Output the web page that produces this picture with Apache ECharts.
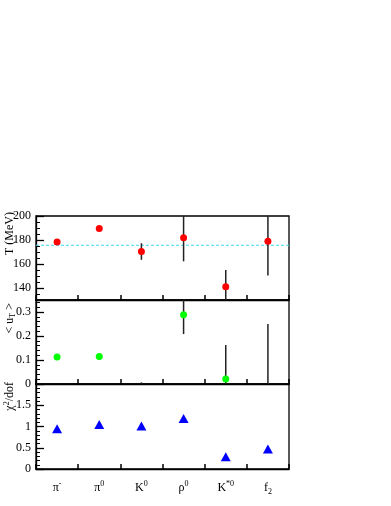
<!DOCTYPE html>
<html>
<head>
<meta charset="utf-8">
<script src="https://cdn.jsdelivr.net/npm/echarts@6/dist/echarts.min.js"></script>
<style>
  html, body { margin: 0; padding: 0; background: #fff; }
  #chart { width: 391px; height: 506px; }
</style>
</head>
<body>
<div id="chart"></div>
<script>
// particle labels (rich text for super/subscripts)
const particles = ['π{sup|-}', 'π{sup|0}', 'K{sup|0}', 'ρ{sup|0}', 'K{sup|*0}', 'f{sub|2}']

// temperature (MeV) with errors
const tempVals = [178.3, 189.6, 170.4, 181.9, 141.0, 179.0]
const tempErr = [1.2, 1.2, 6.9, 19.7, 14.1, 28.6]
const tempMean = 175.6
const tempTicks = [140, 160, 180, 200]

// mean flow <u_T> with errors (values below 0 are off the plot)
const flowVals = [0.112, 0.115, -0.03, 0.289, 0.021, -0.08]
const flowErr = [0.004, 0.004, 0.037, 0.081, 0.142, 0.33]
const flowTicks = [0, 0.1, 0.2, 0.3]

// fit quality
const chi2Vals = [0.95, 1.045, 1.01, 1.19, 0.29, 0.47]
const chi2Ticks = [0, 0.5, 1, 1.5]

const serif = 'Liberation Serif'
const chart = echarts.init(document.getElementById('chart'))

const grids = [
  { left: 36, right: 102, top: 216, height: 84 },
  { left: 36, right: 102, top: 300, height: 84 },
  { left: 36, right: 102, top: 384, height: 85 }
].map(g => Object.assign(g, { show: true, borderColor: '#000', borderWidth: 1.3, backgroundColor: 'transparent' }))

const xAxisFor = (gi, showLabels) => ({
  type: 'category',
  gridIndex: gi,
  data: particles,
  boundaryGap: true,
  axisLine: { show: true, lineStyle: { color: '#000', width: 1.3 } },
  axisTick: { show: true, inside: true, length: 5, interval: 0, lineStyle: { color: '#000', width: 1.5 } },
  axisLabel: {
    show: showLabels, interval: 0, margin: 11, color: '#000', fontFamily: serif, fontSize: 12, lineHeight: 16,
    rich: {
      sup: { fontFamily: serif, fontSize: 8, verticalAlign: 'top', lineHeight: 16 },
      sub: { fontFamily: serif, fontSize: 8, verticalAlign: 'bottom', lineHeight: 16 }
    }
  },
  splitLine: { show: false }
})

// minor-tick axis carries labels; a second axis draws the longer major ticks
const yAxesFor = (gi, min, max, minor, ticks) => [
  {
    type: 'value', gridIndex: gi, min: min, max: max, interval: minor,
    axisLine: { show: true, lineStyle: { color: '#000', width: 1.3 } },
    axisTick: { show: true, inside: true, length: 4, lineStyle: { color: '#000', width: 1 } },
    axisLabel: { customValues: ticks, margin: 5, color: '#000', fontFamily: serif, fontSize: 12 },
    splitLine: { show: false }
  },
  {
    type: 'value', gridIndex: gi, min: min, max: max, position: 'left',
    axisLine: { show: false },
    axisTick: { show: true, inside: true, length: 8, customValues: ticks, lineStyle: { color: '#000', width: 1.3 } },
    axisLabel: { show: false },
    splitLine: { show: false }
  }
]

const errorBars = (vals, errs, xi, yi) => ({
  type: 'custom',
  xAxisIndex: xi,
  yAxisIndex: yi,
  clip: true,
  z: 2,
  data: vals.map((v, i) => [i, v - errs[i], v + errs[i]]),
  renderItem: (params, api) => {
    const p1 = api.coord([api.value(0), api.value(1)])
    const p2 = api.coord([api.value(0), api.value(2)])
    return {
      type: 'line',
      shape: { x1: p1[0], y1: p1[1], x2: p2[0], y2: p2[1] },
      style: { stroke: '#222', lineWidth: 1.5 }
    }
  }
})

const options = {
  animation: false,
  grid: grids,
  xAxis: [xAxisFor(0, false), xAxisFor(1, false), xAxisFor(2, true)],
  yAxis: [
    ...yAxesFor(0, 130, 200, 5, tempTicks),
    ...yAxesFor(1, 0, 0.35, 0.02, flowTicks),
    ...yAxesFor(2, 0, 2, 0.1, chi2Ticks)
  ],
  series: [
    {
      // dashed mean temperature across the whole top panel
      type: 'custom', xAxisIndex: 0, yAxisIndex: 0, z: 1, silent: true,
      data: [[0, tempMean]],
      renderItem: (params, api) => {
        const y = api.coord([0, api.value(1)])[1]
        const cs = params.coordSys
        return {
          type: 'line',
          shape: { x1: cs.x, y1: y, x2: cs.x + cs.width, y2: y },
          style: { stroke: '#40d8f0', lineWidth: 1, lineDash: [3, 2] }
        }
      }
    },
    errorBars(tempVals, tempErr, 0, 0),
    {
      type: 'scatter', xAxisIndex: 0, yAxisIndex: 0, z: 3,
      data: tempVals.map((v, i) => [i, v]),
      symbol: 'circle', symbolSize: 7,
      itemStyle: { color: '#ff0000', opacity: 1 }
    },
    errorBars(flowVals, flowErr, 1, 2),
    {
      type: 'scatter', xAxisIndex: 1, yAxisIndex: 2, z: 3,
      data: flowVals.map((v, i) => [i, v]),
      symbol: 'circle', symbolSize: 7,
      itemStyle: { color: '#00ff00', opacity: 1 }
    },
    {
      type: 'scatter', xAxisIndex: 2, yAxisIndex: 4, z: 3,
      data: chi2Vals.map((v, i) => [i, v]),
      symbol: 'triangle', symbolSize: [10, 9],
      itemStyle: { color: '#0000ff', opacity: 1 }
    }
  ],
  graphic: [
    {
      type: 'text', x: 10, y: 212, rotation: Math.PI / 2,
      style: { text: 'T (MeV)', font: '12px "Liberation Serif"', fill: '#000', align: 'right', verticalAlign: 'middle' }
    },
    {
      type: 'text', x: 10, y: 303, rotation: Math.PI / 2,
      style: {
        text: '< u{sub|T} >', font: '12px "Liberation Serif"', fill: '#000', align: 'right', verticalAlign: 'middle',
        rich: { sub: { fontFamily: serif, fontSize: 8, verticalAlign: 'bottom', lineHeight: 14 } }
      }
    },
    {
      type: 'text', x: 10, y: 382, rotation: Math.PI / 2,
      style: {
        text: 'χ{sup|2}/dof', font: '12px "Liberation Serif"', fill: '#000', align: 'right', verticalAlign: 'middle',
        rich: { sup: { fontFamily: serif, fontSize: 8, verticalAlign: 'top', lineHeight: 14 } }
      }
    }
  ]
}

chart.setOption(options)
window.onresize = () => { chart.resize() }
</script>
</body>
</html>
